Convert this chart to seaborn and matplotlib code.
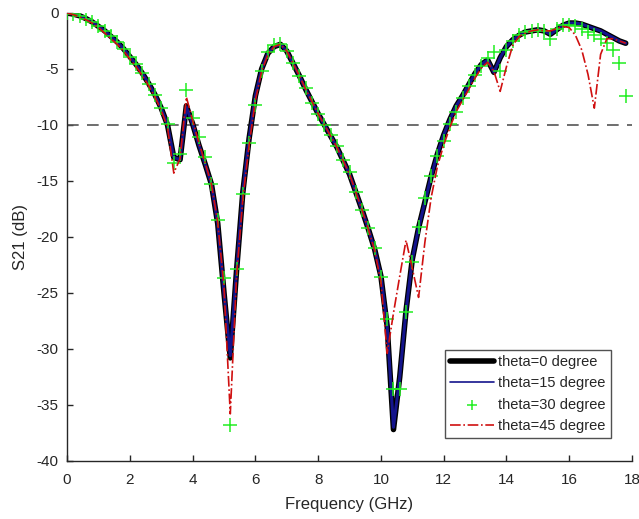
import numpy as np
import pandas as pd
import matplotlib
matplotlib.use("Agg")
import matplotlib.pyplot as plt
import seaborn as sns

# ========= DATOS =========
# rejilla de frecuencia: 0 a 17.8 GHz cada 0.2 GHz
freq_ghz = np.round(np.arange(0, 17.81, 0.2), 1)

s21_theta0 = [
    0.0, -0.1, -0.25, -0.5, -0.8, -1.2, -1.6, -2.1, -2.6, -3.2,      # 0.0 - 1.8
    -3.9, -4.6, -5.4, -6.3, -7.3, -8.5, -10.0, -12.9, -13.1, -8.3,   # 2.0 - 3.8
    -9.9, -11.8, -13.5, -15.3, -18.8, -25.0, -30.8, -23.0, -16.0, -11.2,  # 4.0 - 5.8
    -7.4, -5.0, -3.6, -3.0, -2.8, -3.4, -4.5, -5.6, -6.8, -7.9,      # 6.0 - 7.8
    -9.0, -10.0, -11.0, -12.0, -13.2, -14.4, -16.0, -17.6, -19.3, -21.1,  # 8.0 - 9.8
    -23.5, -28.0, -37.2, -32.5, -26.6, -22.0, -19.2, -16.9, -14.6, -12.6,  # 10.0 - 11.8
    -10.9, -9.5, -8.3, -7.4, -6.4, -5.4, -4.6, -4.2, -5.3, -4.0,     # 12.0 - 13.8
    -3.0, -2.4, -2.0, -1.7, -1.6, -1.5, -1.6, -1.9, -1.5, -1.1,      # 14.0 - 15.8
    -0.9, -0.9, -1.0, -1.2, -1.4, -1.6, -1.9, -2.2, -2.5, -2.7,      # 16.0 - 17.8
]

s21_theta15 = [
    0.0, -0.1, -0.25, -0.5, -0.8, -1.2, -1.6, -2.1, -2.6, -3.2,
    -3.9, -4.6, -5.4, -6.3, -7.3, -8.5, -10.0, -12.9, -13.1, -8.4,
    -9.9, -11.8, -13.5, -15.3, -18.8, -25.0, -30.6, -23.0, -16.0, -11.2,
    -7.4, -5.0, -3.6, -3.0, -2.8, -3.4, -4.5, -5.6, -6.8, -7.9,
    -9.0, -10.0, -11.0, -12.0, -13.2, -14.4, -16.0, -17.6, -19.3, -21.1,
    -23.5, -28.0, -37.0, -32.5, -26.6, -22.0, -19.2, -16.9, -14.6, -12.6,
    -10.9, -9.5, -8.3, -7.4, -6.4, -5.4, -4.6, -4.2, -5.3, -4.0,
    -3.0, -2.4, -2.0, -1.7, -1.6, -1.5, -1.6, -1.9, -1.5, -1.1,
    -0.9, -0.9, -1.0, -1.2, -1.4, -1.6, -1.9, -2.2, -2.5, -2.7,
]

s21_theta30 = [
    0.0, -0.1, -0.25, -0.5, -0.8, -1.2, -1.6, -2.1, -2.6, -3.2,
    -3.9, -4.6, -5.4, -6.3, -7.3, -8.5, -9.9, -13.4, -12.6, -6.9,
    -9.4, -11.1, -12.9, -15.3, -18.5, -23.7, -36.8, -22.9, -16.2, -11.6,
    -8.2, -5.2, -3.5, -2.9, -2.8, -3.4, -4.5, -5.6, -6.7, -8.0,
    -9.0, -10.0, -10.9, -11.9, -13.1, -14.2, -16.0, -17.6, -19.2, -21.0,
    -23.6, -27.3, -33.6, -33.6, -26.7, -22.2, -19.1, -16.5, -14.6, -12.8,
    -11.4, -9.9, -8.8, -7.6, -6.5, -5.5, -4.7, -4.0, -3.5, -5.2,
    -3.3, -2.5, -2.0, -1.7, -1.6, -1.5, -1.6, -2.3, -1.4, -1.1,
    -1.1, -1.2, -1.4, -1.7, -2.0, -2.3, -2.7, -3.3, -4.5, -7.4,
]

s21_theta45 = [
    0.0, -0.15, -0.35, -0.6, -0.9, -1.3, -1.8, -2.3, -2.8, -3.4,
    -4.1, -4.8, -5.6, -6.5, -7.5, -8.7, -10.2, -14.3, -13.0, -7.5,
    -9.6, -11.6, -13.4, -15.3, -18.7, -24.5, -35.8, -23.5, -16.6, -11.8,
    -7.8, -5.2, -3.7, -3.0, -2.8, -3.4, -4.5, -5.6, -6.8, -7.9,
    -9.0, -10.0, -11.0, -12.0, -13.2, -14.4, -16.0, -17.6, -19.3, -21.2,
    -24.0, -30.4, -26.8, -23.5, -20.3, -22.8, -25.4, -20.5, -16.5, -13.7,
    -11.8, -10.2, -8.8, -7.8, -6.8, -5.8, -4.9, -4.4, -5.2, -7.0,
    -4.8, -2.9, -2.1, -1.8, -1.6, -1.5, -1.6, -1.6, -1.4, -1.2,
    -1.3, -2.0, -3.3, -5.5, -8.5, -3.7, -2.3, -2.3, -2.5, -2.7,
]

labels = ["theta=0 degree", "theta=15 degree", "theta=30 degree", "theta=45 degree"]
umbral_db = -10

# ========= ESTILO =========
sns.set_theme(style="ticks")
plt.rcParams["font.family"] = ["Liberation Sans", "DejaVu Sans"]
plt.rcParams["axes.unicode_minus"] = False
text_color = "#262626"

fig = plt.figure(figsize=(6.39, 5.19), dpi=100)
ax = fig.add_axes([0.105, 0.112, 0.884, 0.863])

# linea de referencia -10 dB
ax.axhline(umbral_db, color="#555555", linestyle=(0, (7, 5)), linewidth=1.2, zorder=1)

sns.lineplot(x=freq_ghz, y=s21_theta0, ax=ax, color="black", linewidth=4.0,
             label=labels[0], zorder=2)
sns.lineplot(x=freq_ghz, y=s21_theta15, ax=ax, color="#14148c", linewidth=2.2,
             label=labels[1], zorder=3)
sns.scatterplot(x=freq_ghz, y=s21_theta30, ax=ax, color="#22ee22", marker="+",
                s=90, linewidth=1.1, label=labels[2], zorder=4)
sns.lineplot(x=freq_ghz, y=s21_theta45, ax=ax, color="#d01010", linewidth=1.2,
             linestyle="-.", label=labels[3], zorder=5)

ax.set_xlim(0, 18)
ax.set_ylim(-40, 0)
ax.set_xticks(np.arange(0, 19, 2))
ax.set_yticks(np.arange(-40, 1, 5))
ax.tick_params(direction="in", length=4, width=1, colors=text_color,
               labelsize=11, pad=6)
ax.tick_params(axis="x", pad=9)
for side in ["top", "right"]:
    ax.spines[side].set_visible(False)
for side in ["left", "bottom"]:
    ax.spines[side].set_color(text_color)
    ax.spines[side].set_linewidth(1.0)

ax.set_xlabel("Frequency (GHz)", fontsize=12, color=text_color, labelpad=7)
ax.set_ylabel("S21 (dB)", fontsize=12, color=text_color, labelpad=6)

leg = ax.legend(loc="lower right", bbox_to_anchor=(0.963, 0.051), fontsize=10.5,
                frameon=True, fancybox=False, edgecolor=text_color,
                handlelength=3.0, handletextpad=0.3, labelspacing=0.5,
                borderpad=0.35, borderaxespad=0, scatterpoints=1)
leg.get_frame().set_linewidth(1.0)
leg_lines = leg.get_lines()
leg_lines[1].set_linewidth(1.2)
for h in leg.legend_handles:
    if hasattr(h, "set_sizes") and not hasattr(h, "get_xdata"):
        h.set_sizes([60])
for t in leg.get_texts():
    t.set_color(text_color)

fig.savefig("out.png", dpi=100)
plt.close(fig)
